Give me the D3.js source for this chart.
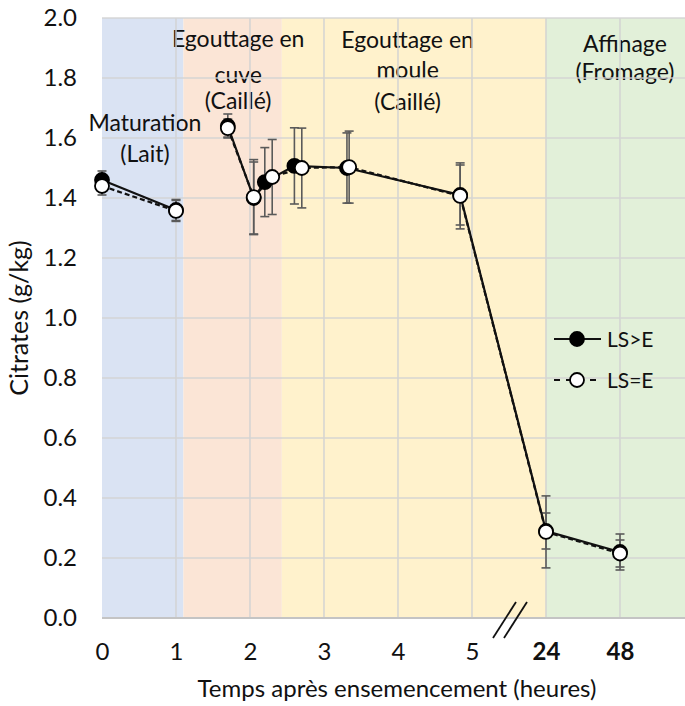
<!DOCTYPE html>
<html>
<head>
<meta charset="utf-8">
<script src="https://cdn.jsdelivr.net/npm/d3@7"></script>
<style>
  html, body { margin: 0; padding: 0; background: #fff; }
  svg { display: block; font-family: Lato, "Open Sans", sans-serif; }
</style>
</head>
<body>
<svg id="chart" width="685" height="706"></svg>
<script>
// ---------- data ----------
const tickValues = [0, 1, 2, 3, 4, 5, 24, 48];
const tickLabels = ["0", "1", "2", "3", "4", "5", "24", "48"];
const yTicks = [0, 0.2, 0.4, 0.6, 0.8, 1.0, 1.2, 1.4, 1.6, 1.8, 2.0];

// LS>E (filled markers, solid line)
const timeLSgtE = [0, 1, 1.7, 2.05, 2.2, 2.6, 3.31, 4.84, 24, 48];
const citLSgtE  = [1.46, 1.36, 1.64, 1.40, 1.453, 1.507, 1.50, 1.41, 0.29, 0.22];
const errLSgtE  = [0.03, 0.035, 0.04, 0.12, 0.115, 0.127, 0.117, 0.10, 0.06, 0.06];
const segLSgtE  = [0, 0, 1, 1, 1, 1, 1, 1, 1, 1];

// LS=E (open markers, dashed line)
const timeLSeqE = [0, 1, 1.7, 2.05, 2.3, 2.7, 3.34, 4.84, 24, 48];
const citLSeqE  = [1.44, 1.357, 1.633, 1.403, 1.47, 1.50, 1.503, 1.407, 0.287, 0.215];
const errLSeqE  = [0.03, 0.035, 0.03, 0.125, 0.125, 0.133, 0.12, 0.11, 0.12, 0.045];
const segLSeqE  = [0, 0, 1, 1, 1, 1, 1, 1, 1, 1];

// phases (background bands) and their labels
const phaseStart = [0, 1.1, 2.43, 24];
const phaseEnd   = [1.1, 2.43, 24, 69];
const phaseColor = ["#dae3f3", "#fbe5d6", "#fff2cc", "#e2f0d9"];
const phaseLabels = [
  { lines: ["Maturation", "(Lait)"], cx: 0.58, ys: [1.623, 1.52] },
  { lines: ["Egouttage en", "cuve", "(Caillé)"], cx: 1.84, ys: [1.903, 1.785, 1.697] },
  { lines: ["Egouttage en", "moule", "(Caillé)"], cx: 4.13, ys: [1.90, 1.80, 1.693] },
  { lines: ["Affinage", "(Fromage)"], cx: 49.6, ys: [1.887, 1.793] }
];

const legendItems = ["LS>E", "LS=E"];
const yTitle = "Citrates (g/kg)";
const xTitle = "Temps après ensemencement  (heures)";

// ---------- layout ----------
const svg = d3.select("#chart");
const pLeft = 102, pRight = 685, pTop = 18, pBottom = 618;

// broken time axis: 0..5 h linear, then 24 h and 48 h one step each
const x = d3.scaleLinear()
  .domain([0, 5, 24, 48, 69])
  .range([pLeft, pLeft + 5 * 74, pLeft + 6 * 74, pLeft + 7 * 74, pRight]);
const y = d3.scaleLinear().domain([0, 2]).range([pBottom, pTop]);

// backgrounds
svg.append("g").selectAll("rect")
  .data(phaseStart)
  .join("rect")
  .attr("x", (d) => x(d))
  .attr("y", pTop)
  .attr("width", (d, i) => x(phaseEnd[i]) - x(d))
  .attr("height", pBottom - pTop)
  .attr("fill", (d, i) => phaseColor[i]);

// phase labels
const lab = svg.append("g").attr("font-size", 23).attr("fill", "#111").attr("text-anchor", "middle");
phaseLabels.forEach((p) => {
  p.lines.forEach((t, i) => {
    lab.append("text").attr("x", x(p.cx)).attr("y", y(p.ys[i])).text(t);
  });
});

// gridlines (drawn over the labels, as in the reference)
const grid = svg.append("g").attr("stroke", "#d3d3d3").attr("stroke-width", 1.6).attr("opacity", 0.9);
grid.selectAll("line.h")
  .data(yTicks.filter((d) => d > 0))
  .join("line")
  .attr("x1", pLeft).attr("x2", pRight)
  .attr("y1", (d) => y(d)).attr("y2", (d) => y(d));
grid.selectAll("line.v")
  .data(tickValues.filter((d) => d > 0))
  .join("line")
  .attr("x1", (d) => x(d)).attr("x2", (d) => x(d))
  .attr("y1", pTop).attr("y2", pBottom);

// x axis line
svg.append("line").attr("x1", pLeft).attr("x2", pRight).attr("y1", pBottom).attr("y2", pBottom)
  .attr("stroke", "#c4c4c4").attr("stroke-width", 1.8);

// axes via d3 (ticks hidden, labels only)
const yAxis = d3.axisLeft(y).tickValues(yTicks).tickFormat(d3.format(".1f")).tickSize(0).tickPadding(25);
const gy = svg.append("g").attr("transform", `translate(${pLeft},0)`).call(yAxis);
gy.select(".domain").remove();
gy.selectAll("text").attr("font-size", 24).attr("fill", "#111").attr("font-family", "Lato, sans-serif");

const xAxis = d3.axisBottom(x).tickValues(tickValues)
  .tickFormat((d, i) => tickLabels[i]).tickSize(0).tickPadding(25);
const gx = svg.append("g").attr("transform", `translate(0,${pBottom})`).call(xAxis);
gx.select(".domain").remove();
gx.selectAll("text").attr("font-size", 24).attr("fill", "#111").attr("font-family", "Lato, sans-serif")
  .attr("font-weight", (d) => (d >= 24 ? "bold" : "normal"));

// axis break marks "//"
const brk = svg.append("g").attr("stroke", "#111").attr("stroke-width", 1.8);
[0, 11].forEach((dx) => {
  brk.append("line")
    .attr("x1", x(5) + 21 + dx).attr("y1", pBottom + 20)
    .attr("x2", x(5) + 44 + dx).attr("y2", pBottom - 16);
});

// axis titles
svg.append("text").attr("x", 397).attr("y", 697).attr("text-anchor", "middle")
  .attr("font-size", 24).attr("fill", "#111").text(xTitle);
svg.append("text").attr("transform", "translate(28,318) rotate(-90)").attr("text-anchor", "middle")
  .attr("font-size", 25).attr("fill", "#111").text(yTitle);

// series
const sGt = timeLSgtE.map((t, i) => ({ t, v: citLSgtE[i], e: errLSgtE[i], s: segLSgtE[i] }));
const sEq = timeLSeqE.map((t, i) => ({ t, v: citLSeqE[i], e: errLSeqE[i], s: segLSeqE[i] }));

function errorBars(data) {
  const g = svg.append("g").attr("stroke", "#5a5a5a").attr("stroke-width", 1.6);
  data.forEach((d) => {
    const cx = x(d.t);
    g.append("line").attr("x1", cx).attr("x2", cx).attr("y1", y(d.v + d.e)).attr("y2", y(d.v - d.e));
    [d.v + d.e, d.v - d.e].forEach((v) => {
      g.append("line").attr("x1", cx - 4.5).attr("x2", cx + 4.5).attr("y1", y(v)).attr("y2", y(v));
    });
  });
}
errorBars(sGt);
errorBars(sEq);

const line = d3.line().x((d) => x(d.t)).y((d) => y(d.v));
function drawSeriesLine(data, dash) {
  d3.groups(data, (d) => d.s).forEach(([, pts]) => {
    svg.append("path").datum(pts).attr("d", line).attr("fill", "none")
      .attr("stroke", "#111").attr("stroke-width", 2.2).attr("stroke-dasharray", dash);
  });
}
drawSeriesLine(sEq, "5,3");
drawSeriesLine(sGt, null);

svg.append("g").selectAll("circle").data(sGt).join("circle")
  .attr("cx", (d) => x(d.t)).attr("cy", (d) => y(d.v)).attr("r", 7)
  .attr("fill", "#000").attr("stroke", "#000").attr("stroke-width", 1.8);
svg.append("g").selectAll("circle").data(sEq).join("circle")
  .attr("cx", (d) => x(d.t)).attr("cy", (d) => y(d.v)).attr("r", 7)
  .attr("fill", "#fff").attr("stroke", "#000").attr("stroke-width", 1.8);

// legend
const lg = svg.append("g");
legendItems.forEach((name, i) => {
  const ly = 339 + i * 41;
  lg.append("line").attr("x1", 554).attr("x2", 601).attr("y1", ly).attr("y2", ly)
    .attr("stroke", "#111").attr("stroke-width", 2)
    .attr("stroke-dasharray", i === 0 ? null : "6,6");
  lg.append("circle").attr("cx", 577).attr("cy", ly).attr("r", 7)
    .attr("fill", i === 0 ? "#000" : "#fff").attr("stroke", "#000").attr("stroke-width", 1.8);
  lg.append("text").attr("x", 607).attr("y", ly + 8).attr("font-size", 21).attr("fill", "#111").text(name);
});
</script>
</body>
</html>
